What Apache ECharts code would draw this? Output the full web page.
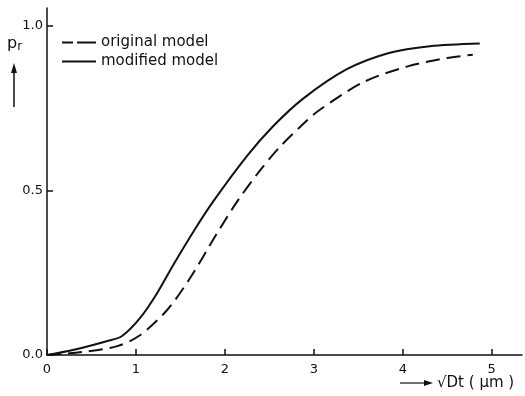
<!DOCTYPE html>
<html>
<head>
<meta charset="utf-8">
<script src="https://cdn.jsdelivr.net/npm/echarts@6/dist/echarts.min.js"></script>
<style>
  html, body { margin: 0; padding: 0; background: #fff; }
  #chart { width: 525px; height: 396px; }
</style>
</head>
<body>
<div id="chart"></div>
<script>
// sqrt(Dt) in micrometres vs. probability p_r
const xTicks = [0, 1, 2, 3, 4, 5];
const yTicks = [0, 0.5, 1.0];

const originalModel = [
  [0, 0], [0.40, 0.009], [0.79, 0.027], [1.045, 0.060], [1.348, 0.136],
  [1.607, 0.233], [1.91, 0.369], [2.135, 0.465], [2.393, 0.560],
  [2.618, 0.632], [2.921, 0.712], [3.067, 0.745], [3.551, 0.828],
  [4.045, 0.876], [4.494, 0.902], [4.787, 0.912]
];

const modifiedModel = [
  [0, 0], [0.29, 0.015], [0.67, 0.042], [0.84, 0.057], [1.045, 0.112],
  [1.236, 0.187], [1.416, 0.272], [1.663, 0.382], [1.865, 0.465],
  [2.247, 0.604], [2.539, 0.694], [2.876, 0.778], [3.371, 0.868],
  [3.854, 0.918], [4.303, 0.938], [4.865, 0.946]
];

const FONT = 'DejaVu Sans';
const INK = '#111';

// legend keys: a broken stroke for the dashed series, a full stroke for the solid one
const DASH_ICON = 'path://M0,0H11V2H0Z M15,0H34V2H15Z';
const SOLID_ICON = 'path://M0,0H34V2H0Z';

const chart = echarts.init(document.getElementById('chart'), null, { renderer: 'canvas' });

chart.setOption({
  animation: false,
  backgroundColor: '#fff',
  grid: { left: 47, right: 3, top: 8, bottom: 41 },
  legend: {
    orient: 'vertical',
    left: 57,
    top: 30,
    itemWidth: 34,
    itemHeight: 2,
    itemGap: 4,
    textStyle: { fontFamily: FONT, fontSize: 15, color: INK },
    data: [
      { name: 'original model', icon: DASH_ICON, itemStyle: { color: INK } },
      { name: 'modified model', icon: SOLID_ICON, itemStyle: { color: INK } }
    ]
  },
  xAxis: {
    type: 'value',
    min: 0,
    max: 5.34,
    interval: 1,
    splitLine: { show: false },
    axisLine: { lineStyle: { color: INK, width: 1.5 } },
    axisTick: { inside: true, length: 6, customValues: xTicks, lineStyle: { color: INK, width: 1.5 } },
    axisLabel: { customValues: xTicks, margin: 8, fontFamily: FONT, fontSize: 13, color: INK }
  },
  yAxis: {
    type: 'value',
    min: 0,
    max: 1.054,
    interval: 0.5,
    splitLine: { show: false },
    axisLine: { lineStyle: { color: INK, width: 1.5 } },
    axisTick: { inside: true, length: 6, customValues: yTicks, lineStyle: { color: INK, width: 1.5 } },
    axisLabel: {
      customValues: yTicks, margin: 4, fontFamily: FONT, fontSize: 13, color: INK,
      formatter: v => v.toFixed(1)
    }
  },
  series: [
    {
      name: 'original model',
      type: 'line',
      data: originalModel,
      smooth: 0.3,
      showSymbol: false,
      symbol: 'none',
      lineStyle: { color: INK, width: 2, type: [14, 7] },
      itemStyle: { color: INK }
    },
    {
      name: 'modified model',
      type: 'line',
      data: modifiedModel,
      smooth: 0.3,
      showSymbol: false,
      symbol: 'none',
      lineStyle: { color: INK, width: 2 },
      itemStyle: { color: INK }
    }
  ],
  graphic: [
    // y-axis name with upward arrow
    {
      type: 'text', left: 7, top: 36,
      style: {
        text: '{p|p}{s|r}',
        rich: {
          p: { fontFamily: FONT, fontSize: 16, fill: INK },
          s: { fontFamily: FONT, fontSize: 12, fill: INK, padding: [6, 0, 0, 0] }
        }
      }
    },
    { type: 'line', shape: { x1: 14, y1: 107, x2: 14, y2: 70 }, style: { stroke: INK, lineWidth: 1.5 } },
    { type: 'polygon', shape: { points: [[14, 63], [11, 73], [17, 73]] }, style: { fill: INK } },
    // x-axis name with rightward arrow
    { type: 'line', shape: { x1: 400, y1: 383, x2: 426, y2: 383 }, style: { stroke: INK, lineWidth: 1.2 } },
    { type: 'polygon', shape: { points: [[433, 383], [424, 380], [424, 386]] }, style: { fill: INK } },
    {
      type: 'text', left: 437, top: 376,
      style: { text: '√Dt ( μm )', fontFamily: FONT, fontSize: 15, fill: INK }
    }
  ]
});
</script>
</body>
</html>
